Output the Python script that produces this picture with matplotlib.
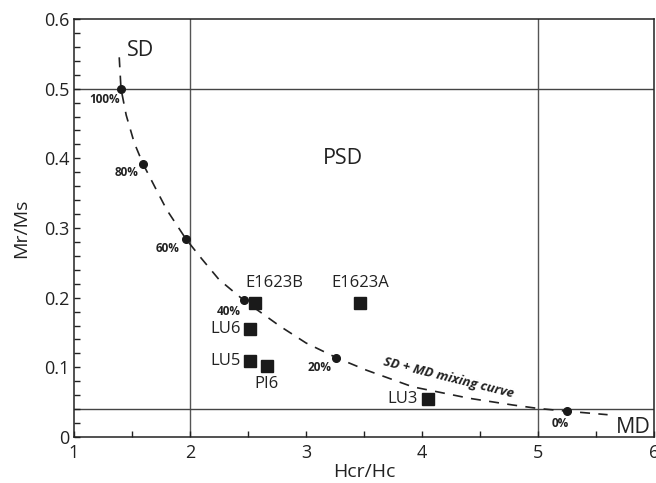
import matplotlib.pyplot as plt
import numpy as np

plt.rcParams['font.family'] = ['Open Sans', 'DejaVu Sans']

# Data
curve_x = [1.39, 1.405, 1.45, 1.52, 1.595, 1.7, 1.8, 1.966, 2.1, 2.25, 2.466, 2.776,
           3.0, 3.26, 3.52, 3.92, 4.41, 4.78, 5.0, 5.25, 5.6]
curve_y = [0.545, 0.50, 0.462, 0.422, 0.392, 0.358, 0.326, 0.284, 0.256, 0.226, 0.196, 0.159,
           0.135, 0.114, 0.096, 0.072, 0.0555, 0.046, 0.041, 0.037, 0.032]

mix_x = [1.405, 1.595, 1.966, 2.466, 3.26, 5.25]
mix_y = [0.50, 0.392, 0.284, 0.196, 0.114, 0.037]
mix_labels = ['100%', '80%', '60%', '40%', '20%', '0%']

samples = ['E1623B', 'E1623A', 'LU6', 'LU5', 'PI6', 'LU3']
hcr_hc = [2.56, 3.466, 2.52, 2.52, 2.66, 4.05]
mr_ms = [0.193, 0.193, 0.155, 0.109, 0.102, 0.0545]

y_ticks = [0, 0.1, 0.2, 0.3, 0.4, 0.5, 0.6]
y_ticklabels = ['0', '0.1', '0.2', '0.3', '0.4', '0.5', '0.6']
x_ticks = [1, 2, 3, 4, 5, 6]

fig = plt.figure(figsize=(6.56, 4.83), dpi=100)
ax = fig.add_axes([74 / 656, 46 / 483, 580 / 656, 418 / 483])

# domain boundaries
for xv in [2, 5]:
    ax.axvline(xv, color='#555555', lw=1.0, zorder=1)
for yv in [0.5, 0.04]:
    ax.axhline(yv, color='#444444', lw=1.0, zorder=1)

# mixing curve
ax.plot(curve_x, curve_y, color='#222222', lw=1.2, dashes=(6, 5), zorder=2)
ax.plot(mix_x, mix_y, 'o', color='#1a1a1a', ms=5.5, zorder=3)

# offsets for percentage labels (points)
pct_off = [(-12, -8), (-12, -6), (-13, -7), (-11, -8), (-12, -7), (-5, -9)]
for x, y, lab, off in zip(mix_x, mix_y, mix_labels, pct_off):
    ax.annotate(lab, (x, y), xytext=off, textcoords='offset points',
                ha='center', va='center', fontsize=8.5, fontweight='bold', color='#222222')

# samples
ax.plot(hcr_hc, mr_ms, 's', color='#1a1a1a', ms=8.5, zorder=4)
lab_pos = {
    'E1623B': dict(xytext=(14, 14), ha='center', va='center'),
    'E1623A': dict(xytext=(0, 14), ha='center', va='center'),
    'LU6': dict(xytext=(-7, 0), ha='right', va='center'),
    'LU5': dict(xytext=(-7, 0), ha='right', va='center'),
    'PI6': dict(xytext=(0, -13), ha='center', va='center'),
    'LU3': dict(xytext=(-7, 0), ha='right', va='center'),
}
for s, x, y in zip(samples, hcr_hc, mr_ms):
    ax.annotate(s, (x, y), textcoords='offset points', fontsize=12, color='#222222', **lab_pos[s])

# region labels
ax.text(1.57, 0.555, 'SD', fontsize=15.5, ha='center', va='center', color='#222222')
ax.text(3.32, 0.400, 'PSD', fontsize=15.5, ha='center', va='center', color='#222222')
ax.text(5.82, 0.014, 'MD', fontsize=15.5, ha='center', va='center', color='#222222')
ax.text(4.23, 0.085, 'SD + MD mixing curve', fontsize=9.5, fontweight='bold', style='italic',
        rotation=-14, ha='center', va='center', color='#222222')

ax.set_xlim(1, 6)
ax.set_ylim(0, 0.6)
ax.set_xticks(x_ticks)
ax.set_xticks(np.arange(1.5, 6, 1), minor=True)
ax.set_yticks(y_ticks)
ax.set_yticklabels(y_ticklabels)
ax.set_yticks(np.arange(0.02, 0.6, 0.02), minor=True)
ax.tick_params(which='both', direction='in', length=4, width=1, colors='#222222',
               labelsize=13, top=False, right=False)
ax.tick_params(axis='x', pad=5)
ax.tick_params(axis='y', pad=3)
for sp in ax.spines.values():
    sp.set_color('#222222')
    sp.set_linewidth(1.1)

ax.set_xlabel('Hcr/Hc', fontsize=14, color='#222222', labelpad=1)
ax.set_ylabel('Mr/Ms', fontsize=14, color='#222222', labelpad=10)

fig.savefig('out.png', dpi=100)
